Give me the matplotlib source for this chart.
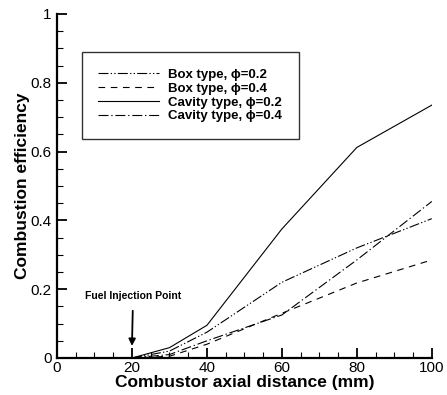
import matplotlib
matplotlib.use("Agg")
import matplotlib.pyplot as plt
from matplotlib.ticker import MultipleLocator

plt.rcParams['font.family'] = ['Liberation Sans', 'DejaVu Sans']

# axial distance (mm)
x = [20, 30, 40, 60, 80, 100]
box_02 = [0.0, 0.02, 0.075, 0.22, 0.32, 0.405]
box_04 = [0.0, 0.005, 0.04, 0.13, 0.218, 0.285]
cav_02 = [0.0, 0.03, 0.095, 0.375, 0.612, 0.735]
cav_04 = [0.0, 0.01, 0.05, 0.125, 0.285, 0.455]

labels = ['Box type, \u03d5=0.2', 'Box type, \u03d5=0.4',
          'Cavity type, \u03d5=0.2', 'Cavity type, \u03d5=0.4']

fig = plt.figure(figsize=(4.47, 3.95), dpi=100)
ax = fig.add_axes([0.1275, 0.0937, 0.8385, 0.871])

lw = 0.8
ax.plot(x, box_02, color='black', lw=lw, ls=(0, (9, 2, 1.2, 2, 1.2, 2)), label=labels[0])
ax.plot(x, box_04, color='black', lw=lw, ls=(0, (6, 5)), label=labels[1])
ax.plot(x, cav_02, color='black', lw=lw, ls='-', label=labels[2])
ax.plot(x, cav_04, color='black', lw=lw, ls=(0, (9, 2.5, 1.2, 2.5)), label=labels[3])

ax.set_xlim(0, 100)
ax.set_ylim(0, 1)
ax.xaxis.set_major_locator(MultipleLocator(20))
ax.xaxis.set_minor_locator(MultipleLocator(5))
ax.yaxis.set_minor_locator(MultipleLocator(0.05))
ax.set_yticks([0, 0.2, 0.4, 0.6, 0.8, 1])
ax.set_yticklabels(['0', '0.2', '0.4', '0.6', '0.8', '1'])
ax.tick_params(which='major', direction='in', length=7, width=1.3, labelsize=11)
ax.tick_params(which='minor', direction='in', length=4, width=0.8)
ax.tick_params(axis='x', pad=2)
ax.tick_params(axis='y', pad=4)

for s in ['top', 'right']:
    ax.spines[s].set_visible(False)
for s in ['left', 'bottom']:
    ax.spines[s].set_linewidth(1.6)

ax.set_xlabel('Combustor axial distance (mm)', fontsize=12.5, fontweight='bold', labelpad=0)
ax.set_ylabel('Combustion efficiency', fontsize=12.5, fontweight='bold', labelpad=0)

ax.annotate('Fuel Injection Point', xy=(20, 0.035), xytext=(20.3, 0.18),
            ha='center', va='center', fontsize=7.5, fontweight='bold',
            arrowprops=dict(arrowstyle='-|>', color='black', lw=1.3,
                            mutation_scale=10, shrinkA=5, shrinkB=0))

leg = ax.legend(loc='upper left', bbox_to_anchor=(0.0667, 0.889),
                frameon=True, fancybox=False,
                handlelength=4.6, handletextpad=0.7, labelspacing=0.12,
                borderpad=1.25, borderaxespad=0, prop={'weight': 'bold', 'size': 9.5})
leg.get_frame().set_edgecolor('black')
leg.get_frame().set_linewidth(1.0)

fig.savefig('out.png', dpi=100)
